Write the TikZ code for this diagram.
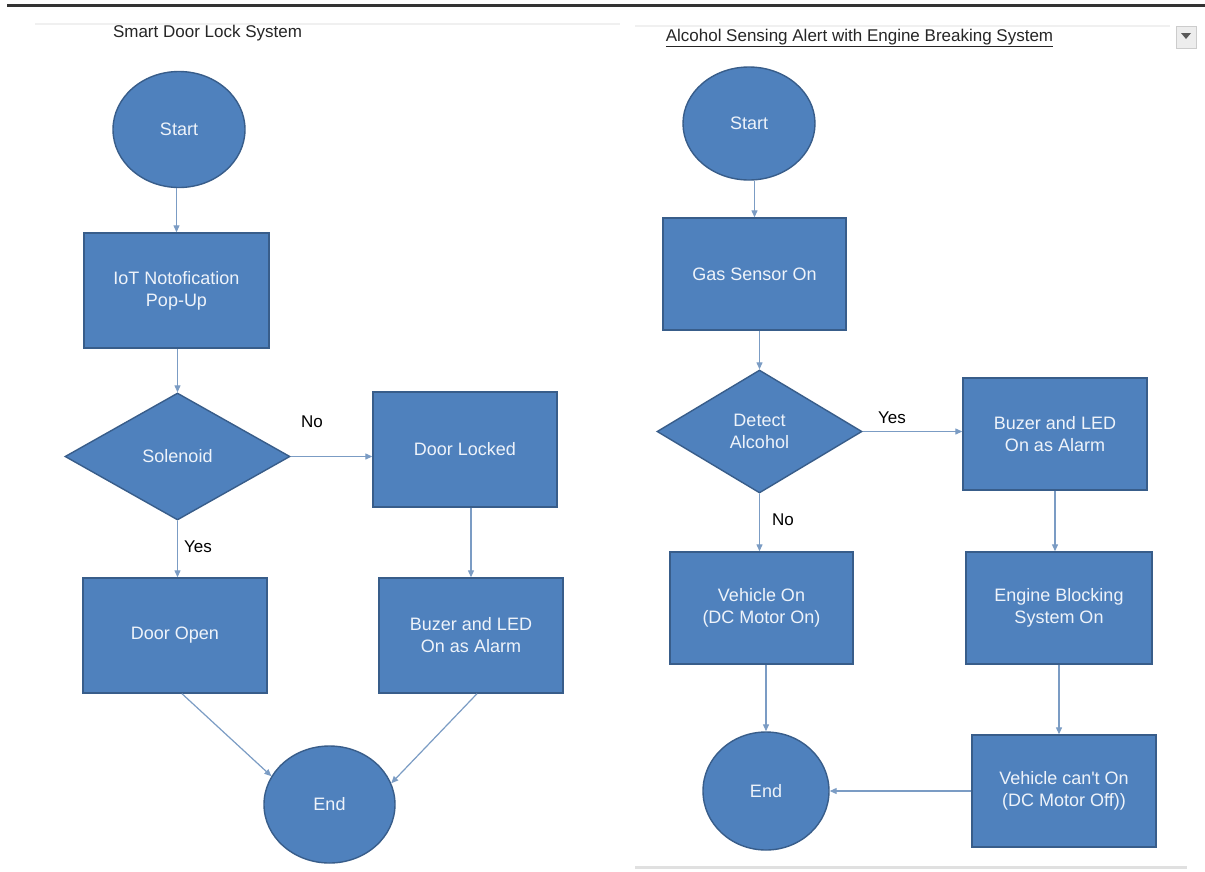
\documentclass[tikz,border=0pt]{standalone}
\usepackage{fontspec}
\setmainfont{Liberation Sans}[Ligatures=TeXOff]
\usetikzlibrary{shapes.geometric,arrows.meta}

\definecolor{shapefill}{HTML}{4F81BD}
\definecolor{shapeedge}{HTML}{385D8A}
\definecolor{shapetext}{HTML}{EEF3FA}
\definecolor{linkcol}{HTML}{7B9CC4}
\definecolor{rulecol}{HTML}{333333}

\tikzset{
  stepbox/.style={rectangle, draw=shapeedge, fill=shapefill, line width=1.4pt,
    text=shapetext, font=\fontsize{18}{22}\selectfont, align=center, inner sep=0pt},
  terminal/.style={ellipse, draw=shapeedge, fill=shapefill, line width=1.4pt,
    text=shapetext, font=\fontsize{18}{22}\selectfont, align=center, inner sep=0pt},
  decision/.style={diamond, draw=shapeedge, fill=shapefill, line width=1.4pt,
    text=shapetext, font=\fontsize{18}{22}\selectfont, align=center, inner sep=0pt},
  conn/.style={draw=linkcol, line width=1.2pt, -{Triangle[length=7pt,width=6pt]}},
  edgelabel/.style={font=\fontsize{17}{20}\selectfont, text=black, inner sep=0pt},
  heading/.style={font=\fontsize{17}{20}\selectfont, text=black!85, inner sep=0pt},
}

\begin{document}
\begin{tikzpicture}[x=1pt,y=-1pt]
\useasboundingbox (0,0) rectangle (1205,871);
\fill[white] (0,0) rectangle (1205,871);

% page decorations
\draw[rulecol, line width=3pt] (7,5) -- (1205,5);
\draw[black!6, line width=2pt] (35,24) -- (620,24);
\draw[black!6, line width=2pt] (635,26) -- (1170,26);
\draw[black!12, line width=3pt] (635,867) -- (1187,867);
\node[rectangle, draw=black!20, fill=black!7, minimum width=20pt, minimum height=22pt, inner sep=0pt] (menu) at (1186,37) {};
\fill[black!65] (1181,33) -- (1191,33) -- (1186,39) -- cycle;

% ---------- Smart Door Lock System ----------
\node[heading] (t1) at (207.5,33) {Smart Door Lock System};

\node[terminal, minimum width=132pt, minimum height=116pt] (s1) at (179,129.5) {Start};
\node[stepbox, minimum width=185pt, minimum height=115pt] (iot) at (176.5,290.5) {IoT Notofication\\Pop-Up};
\node[decision, minimum width=225pt, minimum height=127pt] (sol) at (177.5,456.5) {Solenoid};
\node[stepbox, minimum width=184pt, minimum height=115pt] (lock) at (465,449.5) {Door Locked};
\node[stepbox, minimum width=184pt, minimum height=115pt] (open) at (175,635.5) {Door Open};
\node[stepbox, minimum width=184pt, minimum height=115pt] (buz1) at (471,635.5) {Buzer and LED\\On as Alarm};
\node[terminal, minimum width=131pt, minimum height=117pt] (e1) at (329.5,804.5) {End};

\draw[conn] (iot.north |- s1.south) -- (iot.north);
\draw[conn] (sol.north |- iot.south) -- (sol.north);
\draw[conn] (sol.east) -- (sol.east -| lock.west);
\draw[conn] (sol.south) -- (sol.south |- open.north);
\draw[conn] (buz1.north |- lock.south) -- (buz1.north);
\draw[conn] ([xshift=7pt]open.south) -- (e1.154);
\draw[conn] ([xshift=6pt]buz1.south) -- (e1.19);

\node[edgelabel] (no1) at (312,422) {No};
\node[edgelabel] (yes1) at (198,547) {Yes};

% ---------- Alcohol Sensing Alert ----------
\node[heading] (t2) at (859.5,38) {\underline{Alcohol Sensing Alert with Engine Breaking System}};

\node[terminal, minimum width=132pt, minimum height=113pt] (s2) at (749,123.5) {Start};
\node[stepbox, minimum width=183pt, minimum height=112pt] (gas) at (754.5,274) {Gas Sensor On};
\node[decision, minimum width=205pt, minimum height=123pt] (det) at (759.5,431.5) {Detect\\Alcohol};
\node[stepbox, minimum width=184pt, minimum height=112pt] (buz2) at (1055,434) {Buzer and LED\\On as Alarm};
\node[stepbox, minimum width=183pt, minimum height=112pt] (veh) at (761.5,608) {Vehicle On\\(DC Motor On)};
\node[stepbox, minimum width=186pt, minimum height=112pt] (eng) at (1059,608) {Engine Blocking\\System On};
\node[terminal, minimum width=126pt, minimum height=118pt] (e2) at (766,791) {End};
\node[stepbox, minimum width=184pt, minimum height=112pt] (cant) at (1064,791) {Vehicle can't On\\(DC Motor Off))};

\draw[conn] (gas.north |- s2.south) -- (gas.north);
\draw[conn] (det.north |- gas.south) -- (det.north);
\draw[conn] (det.east) -- (det.east -| buz2.west);
\draw[conn] (det.south) -- (det.south |- veh.north);
\draw[conn] (buz2.south) -- (buz2.south |- eng.north);
\draw[conn] (e2.north |- veh.south) -- (e2.north);
\draw[conn] (eng.south) -- (eng.south |- cant.north);
\draw[conn] (cant.west) -- (e2.east);

\node[edgelabel] (yes2) at (892,418) {Yes};
\node[edgelabel] (no2) at (783,520) {No};
\end{tikzpicture}
\end{document}
